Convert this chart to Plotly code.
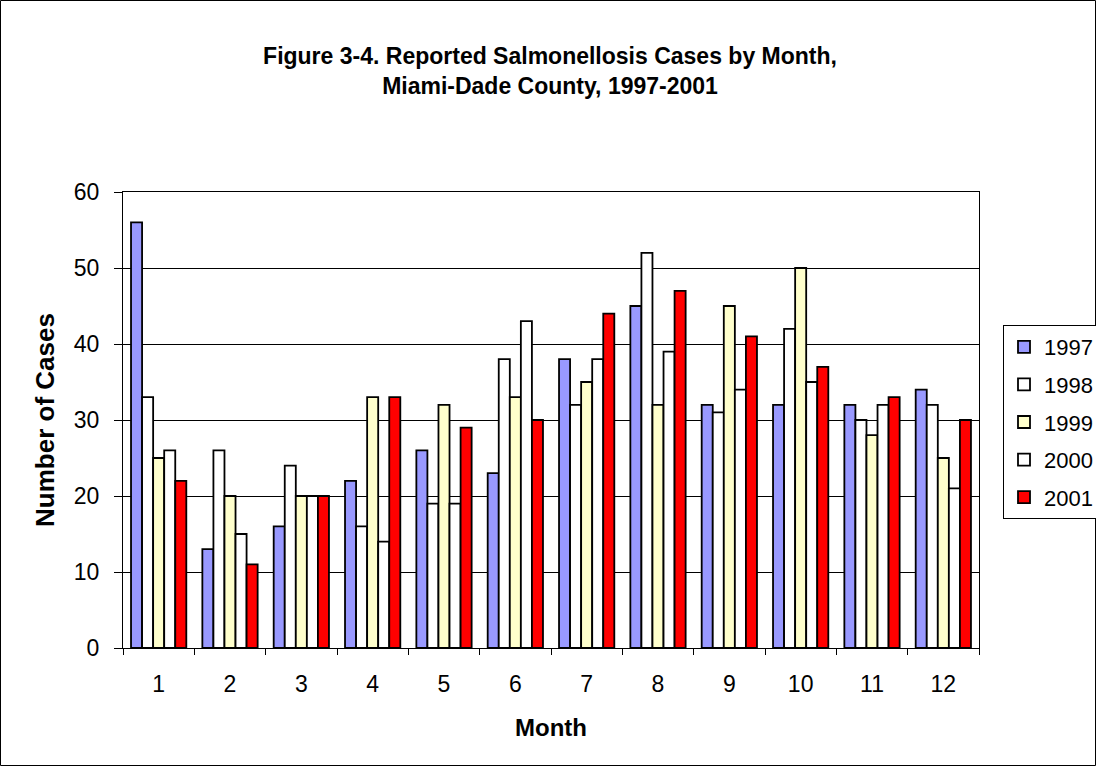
import plotly.graph_objects as go

months = [str(m) for m in range(1, 13)]
years = ["1997", "1998", "1999", "2000", "2001"]
cases_1997 = [56, 13, 16, 22, 26, 23, 38, 45, 32, 32, 32, 34]
cases_1998 = [33, 26, 24, 16, 19, 38, 32, 52, 31, 42, 30, 32]
cases_1999 = [25, 20, 20, 33, 32, 33, 35, 32, 45, 50, 28, 25]
cases_2000 = [26, 15, 20, 14, 19, 43, 38, 39, 34, 35, 32, 21]
cases_2001 = [22, 11, 20, 33, 29, 30, 44, 47, 41, 37, 33, 30]
series = [cases_1997, cases_1998, cases_1999, cases_2000, cases_2001]
colors = ["#9999FF", "#FFFFFF", "#FFFFCC", "#FFFFFF", "#FF0000"]

FONT = "Arial, Liberation Sans, sans-serif"
W, H = 1096, 766
L, R, T, B = 123, 979, 192, 648

fig = go.Figure()
for name, vals, col in zip(years, series, colors):
    fig.add_trace(go.Bar(
        x=months, y=vals, name=name, legendgroup=name,
        marker=dict(color=col, line=dict(color="black", width=1.8)),
    ))

pw, ph = R - L, B - T
def px_x(x):
    return (x - L) / pw
def px_y(y):
    return (B - y) / ph

fig.update_layout(
    width=W, height=H, autosize=False,
    margin=dict(l=L, r=W - R, t=T, b=H - B, pad=0),
    paper_bgcolor="white", plot_bgcolor="white",
    barmode="group", bargap=0.225, bargroupgap=0,
    font=dict(family=FONT, size=23, color="black"),
    title=dict(
        text="<b>Figure 3-4. Reported Salmonellosis Cases by Month,<br>Miami-Dade County, 1997-2001</b>",
        x=550 / W, xref="container", xanchor="center",
        y=1 - 64 / H, yanchor="middle",
        font=dict(family=FONT, size=23, color="black"),
    ),
    legend=dict(
        xref="container", yref="container",
        x=1003 / W, xanchor="left", y=1 - 325 / H, yanchor="top",
        bordercolor="black", borderwidth=1, bgcolor="white",
        font=dict(family=FONT, size=22, color="black"),
        tracegroupgap=6, traceorder="grouped",
    ),
    xaxis=dict(
        type="category", showline=True, linecolor="black", linewidth=1,
        mirror=True, ticks="outside", tickson="boundaries", ticklen=6,
        tickcolor="black", showgrid=False, ticklabelstandoff=15,
        tickfont=dict(family=FONT, size=23),
        title=dict(text="<b>Month</b>", font=dict(family=FONT, size=24), standoff=23),
    ),
    yaxis=dict(
        range=[0, 60], dtick=10, showline=True, linecolor="black", linewidth=1,
        mirror=True, ticks="outside", ticklen=8, tickcolor="black",
        showgrid=True, gridcolor="black", gridwidth=1, zeroline=False,
        ticklabelstandoff=10, tickfont=dict(family=FONT, size=23),
        title=dict(text="<b>Number of Cases</b>", font=dict(family=FONT, size=26), standoff=11),
    ),
    shapes=[dict(
        type="rect", xref="paper", yref="paper",
        x0=px_x(0.5), x1=px_x(W - 0.5), y0=px_y(H - 0.5), y1=px_y(0.5),
        line=dict(color="black", width=1), fillcolor="rgba(0,0,0,0)", layer="below",
    )],
)

fig.write_html(
    "out.html",
    config={"responsive": False, "displayModeBar": False},
    post_script=(
        "document.documentElement.style.overflow='hidden';"
        "document.body.style.margin='0px';document.body.style.overflow='hidden';"
    ),
)
